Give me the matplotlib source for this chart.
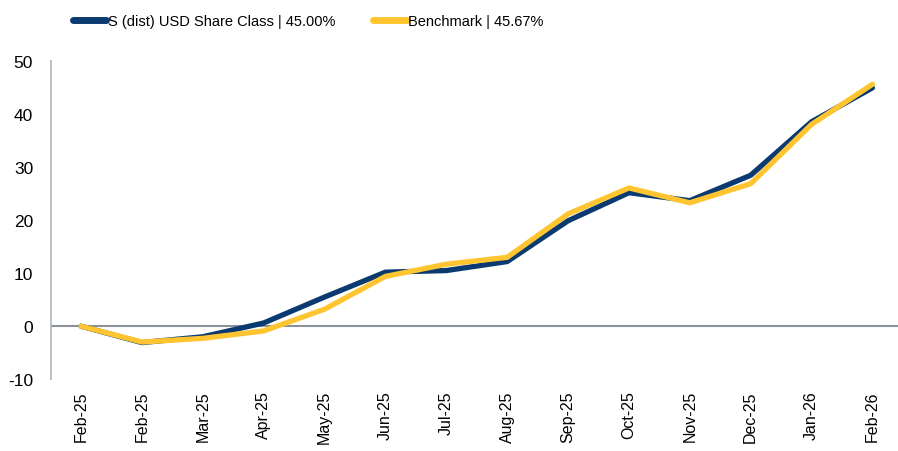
import matplotlib.pyplot as plt

plt.rcParams["font.family"] = ["Liberation Sans", "DejaVu Sans"]
plt.rcParams["axes.unicode_minus"] = False

months = ["Feb-25", "Feb-25", "Mar-25", "Apr-25", "May-25", "Jun-25", "Jul-25",
          "Aug-25", "Sep-25", "Oct-25", "Nov-25", "Dec-25", "Jan-26", "Feb-26"]
share_class = [0, -3.1, -2.0, 0.6, 5.5, 10.2, 10.5, 12.2, 19.9, 25.2, 23.7, 28.5, 38.6, 45.0]
benchmark = [0, -3.0, -2.3, -0.9, 3.2, 9.4, 11.7, 13.0, 21.2, 26.1, 23.3, 26.9, 38.1, 45.67]

navy = "#0A3A70"
gold = "#FFC530"

fig = plt.figure(figsize=(8.98, 4.52), dpi=100, facecolor="white")
ax = fig.add_axes([0.057, 0.159, 0.943, 0.703])

x = list(range(len(months)))
ax.plot(x, share_class, color=navy, lw=3.8, solid_capstyle="round",
        label="S (dist) USD Share Class | 45.00%", zorder=3)
ax.plot(x, benchmark, color=gold, lw=3.8, solid_capstyle="round",
        label="Benchmark | 45.67%", zorder=4)

ax.axhline(0, color="#8C9299", lw=1.5, zorder=1)

ax.set_ylim(-10, 50)
ax.set_yticks(range(-10, 51, 10))
ax.set_xlim(-0.49, 13.42)
ax.set_xticks(x)
ax.set_xticklabels(months, rotation=90, fontsize=11.5)
ax.tick_params(axis="y", labelsize=12.5, length=0, pad=13)
ax.tick_params(axis="x", length=0, pad=8)

for side in ["top", "right", "bottom"]:
    ax.spines[side].set_visible(False)
ax.spines["left"].set_color("#B0B5BA")
ax.spines["left"].set_linewidth(1.2)

leg = fig.legend(loc="center left", bbox_to_anchor=(0.081, 0.952), ncol=2, frameon=False,
                 fontsize=10.5, handlelength=2.3, handletextpad=0.1,
                 columnspacing=2.6, borderaxespad=0, borderpad=0)
for line in leg.get_lines():
    line.set_linewidth(5)

plt.savefig("out.png", dpi=100, facecolor="white")
